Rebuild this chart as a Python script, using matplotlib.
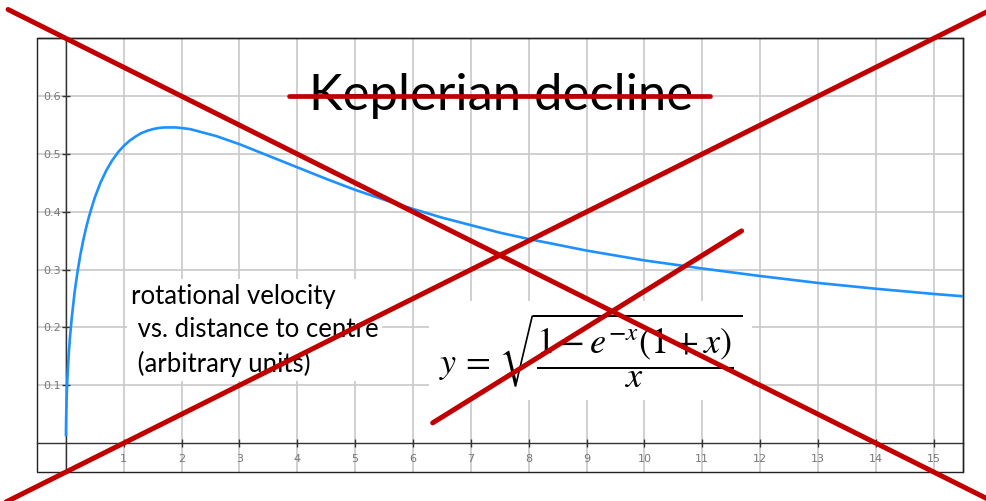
import matplotlib
matplotlib.use("Agg")
import matplotlib.pyplot as plt
from matplotlib.patches import Rectangle

# rotation curve, distance to centre vs. velocity (arbitrary units)
radius = [0.0004, 0.002, 0.005, 0.01, 0.02, 0.03, 0.05, 0.07, 0.1, 0.15, 0.2,
          0.25, 0.3, 0.35, 0.4, 0.45, 0.5, 0.6, 0.7, 0.8, 0.9, 1.0, 1.1, 1.2,
          1.3, 1.4, 1.5, 1.6, 1.7, 1.8, 1.9, 2.0, 2.15, 2.3, 2.45, 2.6, 2.8,
          3.0, 3.25, 3.5, 4.0, 4.5, 5.0, 5.5, 6.0, 6.5, 7.0, 7.5, 8.0, 9.0,
          10.0, 11.0, 12.0, 13.0, 14.0, 15.0, 15.5]
velocity = [0.014, 0.032, 0.050, 0.071, 0.099, 0.121, 0.156, 0.183, 0.216,
            0.261, 0.296, 0.326, 0.351, 0.373, 0.392, 0.409, 0.425, 0.451,
            0.472, 0.489, 0.503, 0.514, 0.523, 0.530, 0.536, 0.540, 0.543,
            0.545, 0.546, 0.546, 0.546, 0.545, 0.543, 0.539, 0.535, 0.531,
            0.524, 0.517, 0.507, 0.497, 0.477, 0.457, 0.438, 0.421, 0.405,
            0.390, 0.377, 0.364, 0.353, 0.333, 0.316, 0.302, 0.289, 0.277,
            0.267, 0.258, 0.254]

x_ticks = list(range(1, 16))
y_ticks = [0.1, 0.2, 0.3, 0.4, 0.5, 0.6]

title = "Keplerian decline"
note = "rotational velocity\n vs. distance to centre\n (arbitrary units)"
formula = r"$y\,=\,\sqrt{\dfrac{1-e^{-x}(1+x)}{x}}$"

# red cross-out strokes drawn over the graph: (x0, x1), (y0, y1)
cross_lines = [((-1.0, 15.95), (0.75, -0.0975)),
               ((-1.05, 15.95), (-0.1025, 0.7475)),
               ((6.34, 11.68), (0.035, 0.367))]
strike = ((3.85, 11.13), (0.6, 0.6))

RED = "#c00000"
GRID = "#c8c8c8"

plt.rcParams["mathtext.fontset"] = "stix"

fig = plt.figure(figsize=(9.86, 5.01), dpi=100)
ax = fig.add_axes([37 / 986, 29 / 501, 925.6 / 986, 433.6 / 501])
ax.set_xlim(-0.5, 15.5)
ax.set_ylim(-0.05, 0.7)

# grid
for gx in range(0, 16):
    ax.axvline(gx, color=GRID, lw=1.2, zorder=0)
for gy in y_ticks:
    ax.axhline(gy, color=GRID, lw=1.2, zorder=0)

# axes through the origin, plus the outer frame
ax.spines["left"].set_position(("data", 0))
ax.spines["bottom"].set_position(("data", 0))
for s in ("left", "bottom"):
    ax.spines[s].set_color("#333333")
    ax.spines[s].set_linewidth(1.0)
    ax.spines[s].set_zorder(1)
for s in ("top", "right"):
    ax.spines[s].set_color("#222222")
    ax.spines[s].set_linewidth(1.0)
ax.add_patch(Rectangle((0, 0), 1, 1, transform=ax.transAxes, fill=False,
                       edgecolor="#222222", lw=1.0, clip_on=False, zorder=1))

ax.set_xticks(x_ticks)
ax.set_yticks(y_ticks)
ax.set_xticklabels([str(t) for t in x_ticks])
ax.set_yticklabels([f"{t:.1f}" for t in y_ticks])
ax.tick_params(axis="both", direction="inout", length=6, width=1.0,
               color="#333333", labelsize=8, labelcolor="#777777")
ax.tick_params(axis="x", pad=5)
ax.tick_params(axis="y", pad=0.5)

ax.plot(radius, velocity, color="#1e90ff", lw=1.9, zorder=3)

ax.text(7.53, 0.576, title, ha="center", va="baseline", fontsize=36.5,
        family="Lato", color="black", zorder=4)

ax.text(1.12, 0.276, note, ha="left", va="top", fontsize=18.5, family="Lato",
        linespacing=1.42, color="black", zorder=4,
        bbox=dict(facecolor="white", edgecolor="none", pad=3))

ax.text(6.45, 0.160, formula, ha="left", va="center", fontsize=26,
        color="black", zorder=4,
        bbox=dict(facecolor="white", edgecolor="none", pad=7))

for xs, ys in cross_lines:
    ax.plot(xs, ys, color=RED, lw=3.6, solid_capstyle="round",
            clip_on=False, zorder=6)
ax.plot(strike[0], strike[1], color=RED, lw=3.4, solid_capstyle="round",
        clip_on=False, zorder=6)

fig.savefig("out.png", dpi=100)
